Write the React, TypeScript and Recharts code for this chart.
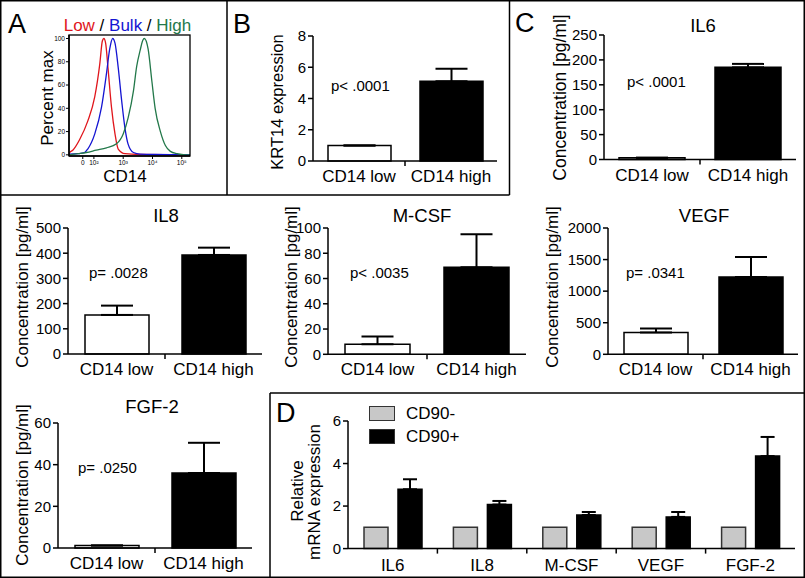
import React from 'react';
import {
  BarChart, Bar, XAxis, YAxis, ErrorBar, Cell, LineChart, Line, Legend,
} from 'recharts';

const FONT = '"Liberation Sans", Arial, Helvetica, sans-serif';

// ---------- data ----------
const cd14Categories = ['CD14 low', 'CD14 high'];
const krt14Values = [1.0, 5.1];
const krt14Errors = [0, 0.8];
const il6Values = [3.5, 185];
const il6Errors = [0, 7];
const il8Values = [155, 393];
const il8Errors = [37, 29];
const mcsfValues = [8, 69];
const mcsfErrors = [6, 26];
const vegfValues = [344, 1224];
const vegfErrors = [63, 317];
const fgf2Values = [1.2, 36];
const fgf2Errors = [0, 14.5];

const mrnaCategories = ['IL6', 'IL8', 'M-CSF', 'VEGF', 'FGF-2'];
const cd90NegValues = [1, 1, 1, 1, 1];
const cd90PosValues = [2.79, 2.07, 1.58, 1.49, 4.35];
const cd90PosErrors = [0.47, 0.17, 0.14, 0.23, 0.9];

const flowXTicks = [1.62, 2, 3, 4, 5];
const flowXTickLabels = ['0', '10²', '10³', '10⁴', '10⁵'];
const flowYTicks = [0, 20, 40, 60, 80, 100];
// [log10 CD14 position, percent of max]
const lowCurve: [number, number][] = [
  [1.15, 1], [1.17, 2], [1.28, 4], [1.51, 13], [1.79, 29], [2.03, 50], [2.2, 78], [2.29, 98],
  [2.34, 100], [2.4, 96], [2.48, 75], [2.6, 41], [2.72, 18], [2.83, 5], [3.06, 1], [3.56, 0.3], [5.28, 0],
];
const bulkCurve: [number, number][] = [
  [1.15, 0.5], [1.46, 1], [1.68, 2], [1.79, 5], [2.03, 18], [2.26, 41], [2.43, 70], [2.54, 91],
  [2.64, 100], [2.72, 96], [2.83, 75], [2.95, 46], [3.06, 23], [3.17, 9], [3.35, 2], [3.58, 0.6], [4.06, 0.3], [5.28, 0.2],
];
const highCurve: [number, number][] = [
  [1.15, 0], [1.46, 1], [1.74, 2], [2.08, 4], [2.43, 6], [2.77, 9.5], [3.0, 18], [3.17, 32],
  [3.35, 55], [3.46, 76], [3.58, 90], [3.67, 98.5], [3.72, 100], [3.85, 91], [3.98, 63], [4.09, 40],
  [4.27, 20], [4.44, 8], [4.61, 3], [4.84, 1], [5.13, 0], [5.28, 0],
];

// ---------- helpers ----------
const toRows = (values: number[], errors: number[]) =>
  cd14Categories.map((cat, i) => ({ cat, value: values[i], err: [0, errors[i]] }));
const toCurve = (pts: [number, number][]) => pts.map(([x, y]) => ({ x, y }));
const mrnaRows = mrnaCategories.map((cat, i) => ({
  cat, neg: cd90NegValues[i], pos: cd90PosValues[i], posErr: [0, cd90PosErrors[i]],
}));

const axisStyle = { stroke: '#000', strokeWidth: 1.5 };
const TICK_FONT = 15;

function makeCatTick(fontSize: number, dy: number) {
  return function CatTick(props: any) {
    const { x, y, payload, index, visibleTicksCount, width } = props;
    let half = payload && payload.offset != null ? payload.offset : NaN;
    if (!isFinite(half) && width && visibleTicksCount) half = width / visibleTicksCount / 2;
    const showLine = isFinite(half) && index < visibleTicksCount - 1;
    return (
      <g>
        <text x={x} y={y + dy} textAnchor="middle" fontSize={fontSize} fill="#000" fontFamily={FONT}>
          {payload.value}
        </text>
        {showLine && (
          <line x1={x + half} y1={y} x2={x + half} y2={y + 5} stroke="#000" strokeWidth={1.5} />
        )}
      </g>
    );
  };
}

const CD14Tick = makeCatTick(17, 21);
const MrnaTick = makeCatTick(17, 22);

type Geo = { x0: number; x1: number; yTop: number; yBase: number };

function TwoBarPanel({ rows, domain, ticks, geo, barSize }: {
  rows: any[]; domain: [number, number]; ticks: number[]; geo: Geo; barSize: number;
}) {
  const YW = 50, MT = 10, XH = 30, MR = 4;
  const fills = ['#ffffff', '#000000'];
  return (
    <div style={{ position: 'absolute', left: geo.x0 - YW, top: geo.yTop - MT }}>
      <BarChart
        width={YW + (geo.x1 - geo.x0) + MR}
        height={MT + (geo.yBase - geo.yTop) + XH}
        data={rows}
        margin={{ top: MT, right: MR, bottom: 0, left: 0 }}
      >
        <XAxis
          dataKey="cat"
          height={XH}
          axisLine={axisStyle}
          tickLine={false}
          tickSize={0}
          tickMargin={0}
          interval={0}
          tick={<CD14Tick />}
        />
        <YAxis
          width={YW}
          domain={domain}
          ticks={ticks}
          interval={0}
          axisLine={axisStyle}
          tickLine={axisStyle}
          tickSize={5}
          tickMargin={2}
          tick={{ fontSize: TICK_FONT, fill: '#000', fontFamily: FONT }}
        />
        <Bar dataKey="value" barSize={barSize} stroke="#000" strokeWidth={1.5} isAnimationActive={false}>
          {rows.map((r, i) => (
            <Cell key={r.cat} fill={fills[i]} />
          ))}
          <ErrorBar dataKey="err" width={16} stroke="#000" strokeWidth={2} direction="y" />
        </Bar>
      </BarChart>
    </div>
  );
}

function renderMrnaLegend(props: any) {
  const payload = [...(props.payload || [])].sort((a: any, b: any) =>
    (a.dataKey === 'neg' ? 0 : 1) - (b.dataKey === 'neg' ? 0 : 1));
  return (
    <div style={{ fontFamily: FONT }}>
      {payload.map((entry: any, i: number) => (
        <div key={i} style={{ display: 'flex', alignItems: 'center', height: 23.3 }}>
          <span
            style={{
              display: 'inline-block', boxSizing: 'border-box', width: 26, height: 15,
              background: entry.color, border: '1.5px solid #333', marginRight: 11,
            }}
          />
          <span style={{ fontSize: 17, color: '#000', lineHeight: '17px' }}>{entry.value}</span>
        </div>
      ))}
    </div>
  );
}

function MrnaPanel() {
  const geo = { x0: 348, x1: 795, yTop: 420.7, yBase: 548.3 };
  const YW = 50, MT = 10, XH = 28, MR = 4;
  const left = geo.x0 - YW, top = geo.yTop - MT;
  return (
    <div style={{ position: 'absolute', left, top }}>
      <BarChart
        width={YW + (geo.x1 - geo.x0) + MR}
        height={MT + (geo.yBase - geo.yTop) + XH}
        data={mrnaRows}
        margin={{ top: MT, right: MR, bottom: 0, left: 0 }}
        barGap={10}
      >
        <XAxis
          dataKey="cat"
          height={XH}
          axisLine={axisStyle}
          tickLine={false}
          tickSize={0}
          tickMargin={0}
          interval={0}
          tick={<MrnaTick />}
        />
        <YAxis
          width={YW}
          domain={[0, 6]}
          ticks={[0, 2, 4, 6]}
          interval={0}
          axisLine={axisStyle}
          tickLine={axisStyle}
          tickSize={5}
          tickMargin={2}
          tick={{ fontSize: TICK_FONT, fill: '#000', fontFamily: FONT }}
        />
        <Legend
          layout="vertical"
          align="center"
          verticalAlign="middle"
          content={renderMrnaLegend}
          wrapperStyle={{ left: 369 - left, top: 401.7 - top, width: 120 }}
        />
        <Bar dataKey="neg" name="CD90-" barSize={24} fill="#c8c8c8" stroke="#333" strokeWidth={1.5} isAnimationActive={false} />
        <Bar dataKey="pos" name="CD90+" barSize={24} fill="#000" stroke="#000" strokeWidth={1.5} isAnimationActive={false}>
          <ErrorBar dataKey="posErr" width={7} stroke="#000" strokeWidth={2} direction="y" />
        </Bar>
      </BarChart>
    </div>
  );
}

const FLOW = { x0: 69, x1: 190, yTop: 35, yBase: 156 };

function FlowPanel() {
  const { x0, x1, yTop, yBase } = FLOW;
  const YW = 20, MT = 5, XH = 14, MR = 3;
  return (
    <div style={{ position: 'absolute', left: x0 - YW, top: yTop - MT }}>
      <LineChart
        width={YW + (x1 - x0) + MR}
        height={MT + (yBase - yTop) + XH}
        margin={{ top: MT, right: MR, bottom: 0, left: 0 }}
      >
        <XAxis
          type="number"
          dataKey="x"
          domain={[1.15, 5.28]}
          ticks={flowXTicks}
          interval={0}
          allowDataOverflow
          height={XH}
          axisLine={axisStyle}
          tickLine={{ stroke: '#000', strokeWidth: 1 }}
          tickSize={3}
          tickMargin={1}
          tickFormatter={(v: number) => flowXTickLabels[flowXTicks.indexOf(v)] ?? ''}
          tick={{ fontSize: 6.5, fill: '#000', fontFamily: FONT }}
        />
        <YAxis
          type="number"
          dataKey="y"
          width={YW}
          domain={[-1, 103]}
          ticks={flowYTicks}
          interval={0}
          allowDataOverflow
          axisLine={axisStyle}
          tickLine={{ stroke: '#000', strokeWidth: 1 }}
          tickSize={3}
          tickMargin={1}
          tick={{ fontSize: 6.5, fill: '#000', fontFamily: FONT }}
        />
        <Line data={toCurve(lowCurve)} dataKey="y" type="monotone" stroke="#e0161c" strokeWidth={1.3} dot={false} isAnimationActive={false} />
        <Line data={toCurve(bulkCurve)} dataKey="y" type="monotone" stroke="#1414d2" strokeWidth={1.3} dot={false} isAnimationActive={false} />
        <Line data={toCurve(highCurve)} dataKey="y" type="monotone" stroke="#23784a" strokeWidth={1.3} dot={false} isAnimationActive={false} />
      </LineChart>
    </div>
  );
}

function VText({ x, y, size, children }: { x: number; y: number; size: number; children: React.ReactNode }) {
  return (
    <text
      transform={`translate(${x},${y}) rotate(-90)`}
      textAnchor="middle"
      dominantBaseline="central"
      fontSize={size}
      fill="#000"
    >
      {children}
    </text>
  );
}

function Overlay() {
  const conc = 'Concentration [pg/ml]';
  return (
    <svg
      width={805}
      height={578}
      style={{ position: 'absolute', left: 0, top: 0, pointerEvents: 'none', fontFamily: FONT }}
    >
      {/* frames */}
      <rect x={0.75} y={0.75} width={803.5} height={576.5} fill="none" stroke="#000" strokeWidth={1.5} />
      <line x1={0} y1={195} x2={509.5} y2={195} stroke="#000" strokeWidth={1.5} />
      <line x1={227} y1={0} x2={227} y2={195} stroke="#000" strokeWidth={1.5} />
      <line x1={509.5} y1={0} x2={509.5} y2={195} stroke="#000" strokeWidth={1.5} />
      <line x1={270} y1={393} x2={805} y2={393} stroke="#000" strokeWidth={1.5} />
      <line x1={270} y1={393} x2={270} y2={578} stroke="#000" strokeWidth={1.5} />
      {/* flow plot frame */}
      <rect x={FLOW.x0} y={FLOW.yTop} width={FLOW.x1 - FLOW.x0} height={FLOW.yBase - FLOW.yTop}
        fill="none" stroke="#000" strokeWidth={1.3} />

      {/* panel A */}
      <text x={8} y={33} fontSize={27} fill="#000">A</text>
      <text x={127.5} y={31} fontSize={17} textAnchor="middle">
        <tspan fill="#e0161c">Low</tspan>
        <tspan fill="#000"> / </tspan>
        <tspan fill="#1414d2">Bulk</tspan>
        <tspan fill="#000"> / </tspan>
        <tspan fill="#23784a">High</tspan>
      </text>
      <VText x={47.5} y={98} size={17}>Percent max</VText>
      <text x={125} y={182} fontSize={17} textAnchor="middle" fill="#000">CD14</text>

      {/* panel B */}
      <text x={233} y={33} fontSize={27} fill="#000">B</text>
      <VText x={277} y={102} size={16.5}>KRT14 expression</VText>
      <text x={331} y={91} fontSize={15} fill="#000">p&lt; .0001</text>

      {/* panel C */}
      <text x={515} y={32} fontSize={27} fill="#000">C</text>
      <text x={703} y={32} fontSize={18.5} textAnchor="middle" fill="#000">IL6</text>
      <VText x={560} y={97.5} size={17.5}>{conc}</VText>
      <text x={627} y={87} fontSize={15} fill="#000">p&lt; .0001</text>

      <text x={166} y={222} fontSize={18.5} textAnchor="middle" fill="#000">IL8</text>
      <VText x={22} y={287} size={17}>{conc}</VText>
      <text x={89} y={278} fontSize={15} fill="#000">p= .0028</text>

      <text x={422} y={222} fontSize={18.5} textAnchor="middle" fill="#000">M-CSF</text>
      <VText x={291} y={287} size={17}>{conc}</VText>
      <text x={350} y={278} fontSize={15} fill="#000">p&lt; .0035</text>

      <text x={704} y={222} fontSize={18.5} textAnchor="middle" fill="#000">VEGF</text>
      <VText x={552} y={287} size={17}>{conc}</VText>
      <text x={626} y={278} fontSize={15} fill="#000">p= .0341</text>

      <text x={152} y={413} fontSize={18.5} textAnchor="middle" fill="#000">FGF-2</text>
      <VText x={22} y={485} size={17}>{conc}</VText>
      <text x={78} y={473} fontSize={15} fill="#000">p= .0250</text>

      {/* panel D */}
      <text x={276} y={422} fontSize={27} fill="#000">D</text>
      <VText x={297} y={491} size={17}>Relative</VText>
      <VText x={314} y={492} size={17}>mRNA expression</VText>
    </svg>
  );
}

export default function App() {
  return (
    <div
      style={{
        position: 'absolute', left: 0, top: 0, width: 805, height: 578,
        background: '#fff', fontFamily: FONT, overflow: 'hidden',
      }}
    >
      <FlowPanel />
      <TwoBarPanel rows={toRows(krt14Values, krt14Errors)} domain={[0, 8]} ticks={[0, 2, 4, 6, 8]}
        geo={{ x0: 313, x1: 497, yTop: 36, yBase: 161 }} barSize={63} />
      <TwoBarPanel rows={toRows(il6Values, il6Errors)} domain={[0, 250]} ticks={[0, 50, 100, 150, 200, 250]}
        geo={{ x0: 604, x1: 796, yTop: 35, yBase: 159.5 }} barSize={66} />
      <TwoBarPanel rows={toRows(il8Values, il8Errors)} domain={[0, 500]} ticks={[0, 100, 200, 300, 400, 500]}
        geo={{ x0: 68, x1: 262, yTop: 228, yBase: 354 }} barSize={64} />
      <TwoBarPanel rows={toRows(mcsfValues, mcsfErrors)} domain={[0, 100]} ticks={[0, 20, 40, 60, 80, 100]}
        geo={{ x0: 328, x1: 526, yTop: 227.7, yBase: 354 }} barSize={65} />
      <TwoBarPanel rows={toRows(vegfValues, vegfErrors)} domain={[0, 2000]} ticks={[0, 500, 1000, 1500, 2000]}
        geo={{ x0: 608, x1: 798, yTop: 227.7, yBase: 354 }} barSize={64} />
      <TwoBarPanel rows={toRows(fgf2Values, fgf2Errors)} domain={[0, 60]} ticks={[0, 20, 40, 60]}
        geo={{ x0: 58, x1: 252, yTop: 422.7, yBase: 547.7 }} barSize={64} />
      <MrnaPanel />
      <Overlay />
    </div>
  );
}
